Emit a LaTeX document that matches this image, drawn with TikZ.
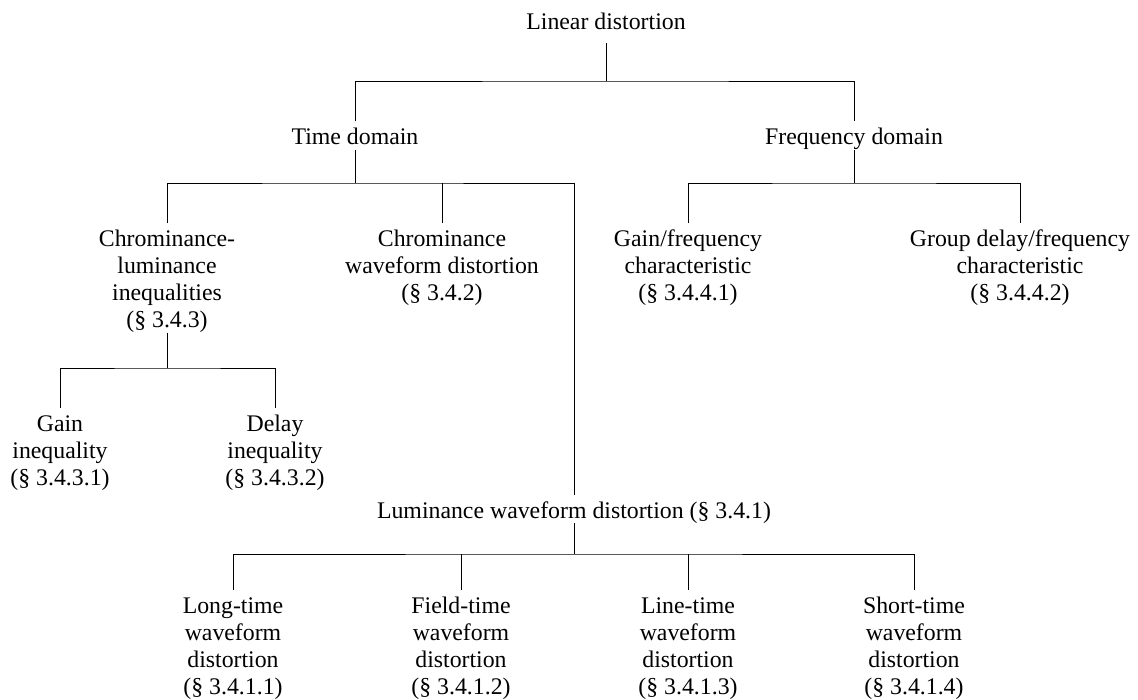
\documentclass[tikz,border=0pt]{standalone}
\usepackage{fontspec}
\setmainfont{Liberation Serif}
\newcommand{\fst}{\rule{0pt}{16.5pt}}
\tikzset{
  lbl/.style={anchor=north, inner sep=0pt, outer sep=0pt, align=center,
    font=\fontsize{23.8pt}{27.3pt}\selectfont},
  conn/.style={line width=1pt, black}
}
\begin{document}
\begin{tikzpicture}[x=1pt, y=-1pt]
\useasboundingbox (0,0) rectangle (1138,699);
% nodes
\node[lbl] (lin) at (606,12.5) {\fst Linear distortion};
\node[lbl] (time) at (355,127.5) {\fst Time domain};
\node[lbl] (freq) at (854,127.5) {\fst Frequency domain};
\node[lbl] (chl) at (167,229.5) {\fst Chrominance-\\luminance\\inequalities\\(§ 3.4.3)};
\node[lbl] (chw) at (442,229.5) {\fst Chrominance\\waveform distortion\\(§ 3.4.2)};
\node[lbl] (gf) at (688,229.5) {\fst Gain/frequency\\characteristic\\(§ 3.4.4.1)};
\node[lbl] (gd) at (1020,229.5) {\fst Group delay/frequency\\characteristic\\(§ 3.4.4.2)};
\node[lbl] (gi) at (60,414.5) {\fst Gain\\inequality\\(§ 3.4.3.1)};
\node[lbl] (di) at (275,414.5) {\fst Delay\\inequality\\(§ 3.4.3.2)};
\node[lbl] (lum) at (574,501.5) {\fst Luminance waveform distortion (§ 3.4.1)};
\node[lbl] (lt) at (233,596.5) {\fst Long-time\\waveform\\distortion\\(§ 3.4.1.1)};
\node[lbl] (ft) at (461,596.5) {\fst Field-time\\waveform\\distortion\\(§ 3.4.1.2)};
\node[lbl] (lnt) at (688,596.5) {\fst Line-time\\waveform\\distortion\\(§ 3.4.1.3)};
\node[lbl] (st) at (914,596.5) {\fst Short-time\\waveform\\distortion\\(§ 3.4.1.4)};
% junctions
\coordinate (j0) at (606,81);
\coordinate (j1) at (355,183);
\coordinate (j2) at (854,183);
\coordinate (j3) at (167,368);
\coordinate (j4) at (574,554);
% connectors
\draw[conn] ([yshift=-14pt]lin.south) -- (j0);
\draw[conn] ([yshift=6.5pt]time.north) |- (j0) -| ([yshift=6.5pt]freq.north);
\draw[conn] ([yshift=-6pt]time.south) -- (j1);
\draw[conn] ([yshift=6.5pt]chl.north) |- (j1) -| ([yshift=6.5pt]lum.north);
\draw[conn] ([yshift=6.5pt]chw.north) -- (chw |- j1);
\draw[conn] ([yshift=-1pt]freq.south) -- (j2);
\draw[conn] ([yshift=6.5pt]gf.north) |- (j2) -| ([yshift=6.5pt]gd.north);
\draw[conn] (chl.south) -- (j3);
\draw[conn] ([yshift=6.5pt]gi.north) |- (j3) -| ([yshift=6.5pt]di.north);
\draw[conn] (lum.south) -- (j4);
\draw[conn] ([yshift=6.5pt]lt.north) |- (j4) -| ([yshift=6.5pt]st.north);
\draw[conn] ([yshift=6.5pt]ft.north) -- (ft |- j4);
\draw[conn] ([yshift=6.5pt]lnt.north) -- (lnt |- j4);
\end{tikzpicture}
\end{document}
